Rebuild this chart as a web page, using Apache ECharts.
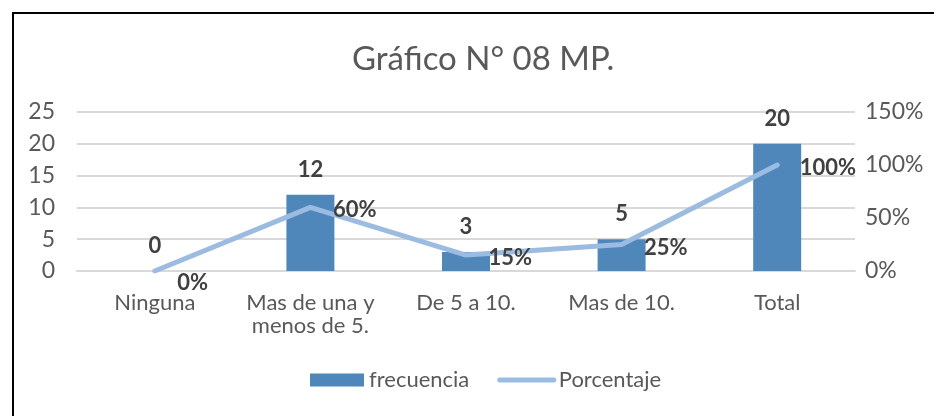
<!DOCTYPE html>
<html>
<head>
<meta charset="utf-8">
<script src="https://cdn.jsdelivr.net/npm/echarts@6/dist/echarts.min.js"></script>
<style>
  html, body { margin: 0; padding: 0; background: #fff; }
  #main { width: 934px; height: 416px; }
</style>
</head>
<body>
<div id="main"></div>
<script>
// datos del gráfico
const categorias = ['Ninguna', 'Mas de una y\nmenos de 5.', 'De 5 a 10.', 'Mas de 10.', 'Total'];
const frecuencia = [0, 12, 3, 5, 20];
const porcentaje = [0, 60, 15, 25, 100];

const chart = echarts.init(document.getElementById('main'));
const fuente = 'Lato';
const gris = '#595959';

const option = {
  animation: false,
  textStyle: { fontFamily: fuente },
  title: {
    text: 'Gráfico N° 08 MP.',
    left: 347,
    top: 38,
    textStyle: { color: gris, fontSize: 33, fontWeight: 'normal', fontFamily: fuente }
  },
  // marco del gráfico
  graphic: [{
    type: 'rect',
    shape: { x: 13, y: 13, width: 960, height: 440 },
    style: { fill: 'none', stroke: '#000', lineWidth: 2 }
  }],
  legend: {
    bottom: 20,
    left: 305,
    itemGap: 28,
    itemWidth: 54,
    itemHeight: 13,
    textStyle: { color: gris, fontSize: 22, fontFamily: fuente },
    data: [
      { name: 'frecuencia', icon: 'rect' },
      { name: 'Porcentaje', itemStyle: { opacity: 0 }, lineStyle: { width: 5, cap: 'round', color: '#9bbbe1' } }
    ]
  },
  grid: { left: 77, right: 79, top: 112, bottom: 145 },
  xAxis: {
    type: 'category',
    data: categorias,
    axisLine: { lineStyle: { color: '#d9d9d9', width: 2 } },
    axisTick: { show: false },
    axisLabel: { color: gris, fontSize: 22, margin: 20, lineHeight: 23, interval: 0, fontFamily: fuente }
  },
  yAxis: [{
    type: 'value',
    min: 0, max: 25, interval: 5,
    axisLine: { show: false },
    axisTick: { show: false },
    axisLabel: { color: gris, fontSize: 23, margin: 22, fontFamily: fuente },
    splitLine: { lineStyle: { color: '#d9d9d9', width: 2 } }
  }, {
    type: 'value',
    min: 0, max: 150, interval: 50,
    axisLine: { show: false },
    axisTick: { show: false },
    axisLabel: { color: gris, fontSize: 23, margin: 10, formatter: '{value}%', fontFamily: fuente },
    splitLine: { show: false }
  }],
  series: [{
    name: 'frecuencia',
    type: 'bar',
    data: frecuencia,
    barWidth: 48,
    itemStyle: { color: '#4f87bb' },
    label: {
      show: true,
      position: 'top',
      distance: 14,
      color: '#404040',
      fontSize: 22,
      fontWeight: 'bold',
      fontFamily: fuente
    }
  }, {
    name: 'Porcentaje',
    type: 'line',
    yAxisIndex: 1,
    data: porcentaje.map((v, i) => i === 0 ? { value: v, label: { offset: [0, 12] } } : v),
    symbol: 'circle',
    symbolSize: 1,
    lineStyle: { color: '#9bbbe1', width: 5, cap: 'round' },
    itemStyle: { color: '#9bbbe1' },
    label: {
      show: true,
      position: 'right',
      distance: 22,
      offset: [0, 3],
      formatter: '{c}%',
      color: '#404040',
      fontSize: 22,
      fontWeight: 'bold',
      fontFamily: fuente
    }
  }]
};

chart.setOption(option);
</script>
</body>
</html>
